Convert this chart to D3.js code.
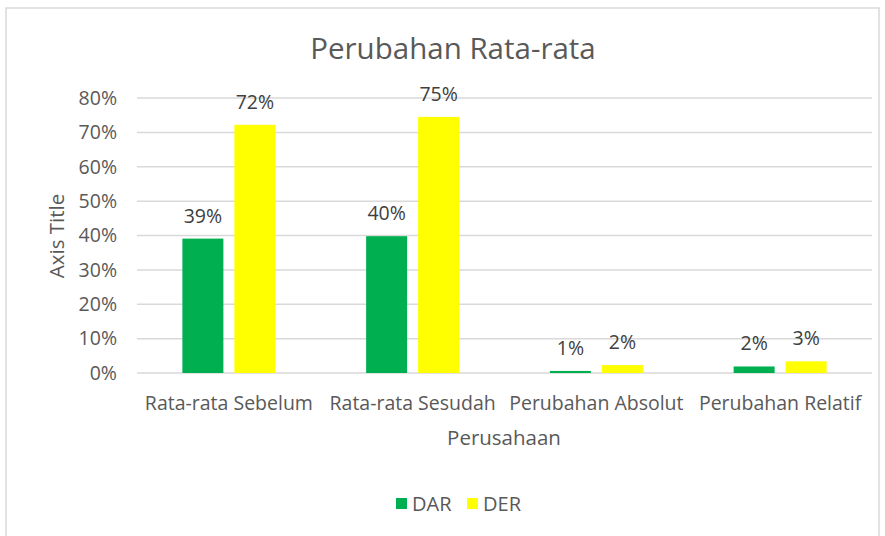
<!DOCTYPE html>
<html>
<head>
<script src="https://d3js.org/d3.v7.min.js"></script>
<style>
  body { margin: 0; background: #fff; }
  text { font-family: "Open Sans", sans-serif; }
</style>
</head>
<body>
<svg id="chart"></svg>
<script>
// data
const categories = ['Rata-rata Sebelum', 'Rata-rata Sesudah', 'Perubahan Absolut', 'Perubahan Relatif'];
const series = ['DAR', 'DER'];
const dar = [0.391, 0.398, 0.006, 0.019];
const der = [0.722, 0.745, 0.023, 0.034];
const yTicks = [0, 0.1, 0.2, 0.3, 0.4, 0.5, 0.6, 0.7, 0.8];
const colors = {DAR: '#00b050', DER: '#ffff00'};

const W = 885, H = 536;
let svg = d3.select('#chart').attr('width', W).attr('height', H);

// chart border
svg.append('rect')
   .attr('x', 6).attr('y', 8).attr('width', W - 12).attr('height', H - 6)
   .attr('fill', 'white').attr('stroke', '#d9d9d9').attr('stroke-width', 1.5);

const plotLeft = 137, plotRight = 872, plotTop = 98, plotBottom = 373;
const fontPx = '19.5px';

let x = d3.scaleBand().domain(categories).range([plotLeft, plotRight]);
let y = d3.scaleLinear().domain([0, 0.8]).range([plotBottom, plotTop]);

// gridlines
svg.append('g')
   .selectAll('line')
   .data(yTicks)
   .join('line')
   .attr('x1', plotLeft).attr('x2', plotRight)
   .attr('y1', d => y(d)).attr('y2', d => y(d))
   .attr('stroke', '#d9d9d9').attr('stroke-width', 1.5);

// y axis labels
let yAxis = svg.append('g')
   .attr('transform', `translate(${plotLeft - 20},0)`)
   .call(d3.axisLeft(y).tickValues(yTicks).tickFormat(d3.format('.0%')).tickSize(0).tickPadding(0));
yAxis.select('.domain').remove();
yAxis.selectAll('text').attr('fill', '#595959').style('font-size', fontPx)
     .style('font-family', '"Open Sans", sans-serif');

// x axis labels
let xAxis = svg.append('g')
   .attr('transform', `translate(0,${plotBottom})`)
   .call(d3.axisBottom(x).tickSize(0));
xAxis.select('.domain').remove();
xAxis.selectAll('text').attr('y', 37).attr('dy', 0)
     .attr('fill', '#595959').style('font-size', fontPx)
     .style('font-family', '"Open Sans", sans-serif');

// bars
const barW = 41, gap = 11;
let rows = categories.map((c, i) => ({cat: c, DAR: dar[i], DER: der[i]}));
let groups = svg.append('g').selectAll('g')
   .data(rows).join('g')
   .attr('transform', d => `translate(${x(d.cat) + x.bandwidth() / 2},0)`);

series.forEach((s, k) => {
  let off = k === 0 ? -gap / 2 - barW : gap / 2;
  groups.append('rect')
     .attr('x', off)
     .attr('y', d => y(d[s]))
     .attr('width', barW)
     .attr('height', d => plotBottom - y(d[s]))
     .attr('fill', colors[s]);
  groups.append('text')
     .attr('x', off + barW / 2)
     .attr('y', d => y(d[s]) - 16)
     .attr('text-anchor', 'middle')
     .attr('fill', '#404040')
     .style('font-size', fontPx)
     .text(d => d3.format('.0%')(d[s]));
});

// title
svg.append('text')
   .attr('x', 453).attr('y', 59)
   .attr('text-anchor', 'middle')
   .attr('fill', '#595959')
   .style('font-size', '29.5px')
   .text('Perubahan Rata-rata');

// axis titles
svg.append('text')
   .attr('transform', 'translate(64,236) rotate(-90)')
   .attr('text-anchor', 'middle')
   .attr('fill', '#595959')
   .style('font-size', '20.5px')
   .text('Axis Title');

svg.append('text')
   .attr('x', 504).attr('y', 445)
   .attr('text-anchor', 'middle')
   .attr('fill', '#595959')
   .style('font-size', '20.5px')
   .text('Perusahaan');

// legend
let legend = svg.append('g').attr('transform', 'translate(396,498)');
let legX = [0, 71];
series.forEach((s, k) => {
  legend.append('rect')
     .attr('x', legX[k]).attr('y', 0)
     .attr('width', 11).attr('height', 11)
     .attr('fill', colors[s]);
  legend.append('text')
     .attr('x', legX[k] + 16).attr('y', 13)
     .attr('fill', '#595959')
     .style('font-size', '20px')
     .text(s);
});
</script>
</body>
</html>
